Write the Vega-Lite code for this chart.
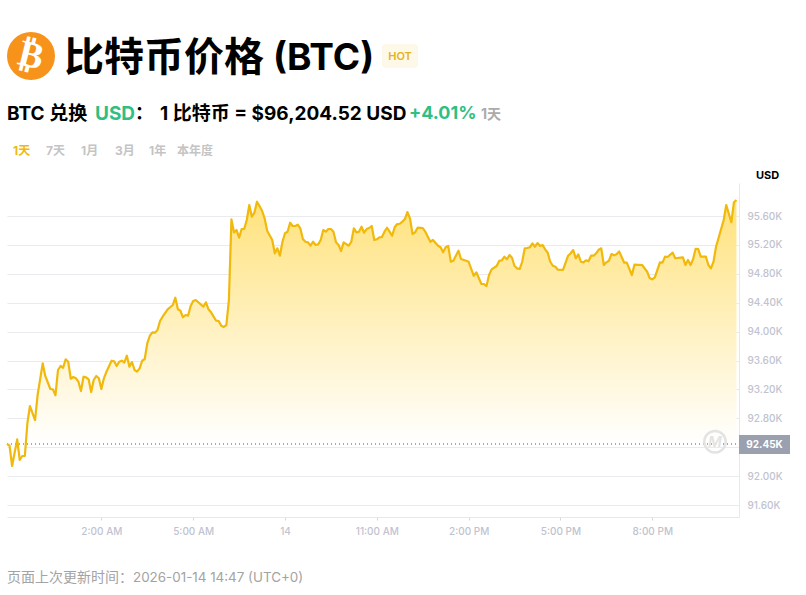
{"$schema":"https://vega.github.io/schema/vega-lite/v6.json","width":732,"height":334,"autosize":{"type":"none"},"padding":{"left":7,"top":183,"right":67,"bottom":78},"background":"#ffffff","config":{"view":{"stroke":null},"font":"Inter"},
"data":{"values":[
{"t":"2026-01-13T22:55","p":92.444},{"t":"2026-01-13T23:00","p":92.421},{"t":"2026-01-13T23:05","p":92.14},{"t":"2026-01-13T23:15","p":92.509},{"t":"2026-01-13T23:20","p":92.223},{"t":"2026-01-13T23:25","p":92.278},{"t":"2026-01-13T23:30","p":92.278},{"t":"2026-01-13T23:35","p":92.735},{"t":"2026-01-13T23:40","p":92.97},{"t":"2026-01-13T23:50","p":92.776},{"t":"2026-01-13T23:55","p":93.122},
{"t":"2026-01-14T00:05","p":93.561},{"t":"2026-01-14T00:10","p":93.386},{"t":"2026-01-14T00:20","p":93.206},{"t":"2026-01-14T00:25","p":93.201},{"t":"2026-01-14T00:30","p":93.118},{"t":"2026-01-14T00:35","p":93.469},{"t":"2026-01-14T00:40","p":93.524},{"t":"2026-01-14T00:45","p":93.5},{"t":"2026-01-14T00:50","p":93.617},{"t":"2026-01-14T00:55","p":93.583},
{"t":"2026-01-14T01:00","p":93.348},{"t":"2026-01-14T01:05","p":93.372},{"t":"2026-01-14T01:10","p":93.354},{"t":"2026-01-14T01:15","p":93.307},{"t":"2026-01-14T01:20","p":93.178},{"t":"2026-01-14T01:25","p":93.376},{"t":"2026-01-14T01:30","p":93.367},{"t":"2026-01-14T01:35","p":93.34},{"t":"2026-01-14T01:40","p":93.164},{"t":"2026-01-14T01:45","p":93.33},{"t":"2026-01-14T01:50","p":93.386},{"t":"2026-01-14T01:55","p":93.354},
{"t":"2026-01-14T02:00","p":93.206},{"t":"2026-01-14T02:05","p":93.354},{"t":"2026-01-14T02:10","p":93.445},{"t":"2026-01-14T02:20","p":93.597},{"t":"2026-01-14T02:25","p":93.589},{"t":"2026-01-14T02:30","p":93.524},{"t":"2026-01-14T02:35","p":93.583},{"t":"2026-01-14T02:40","p":93.597},{"t":"2026-01-14T02:45","p":93.57},{"t":"2026-01-14T02:50","p":93.666},{"t":"2026-01-14T02:55","p":93.514},
{"t":"2026-01-14T03:00","p":93.579},{"t":"2026-01-14T03:05","p":93.469},{"t":"2026-01-14T03:10","p":93.445},{"t":"2026-01-14T03:15","p":93.492},{"t":"2026-01-14T03:20","p":93.597},{"t":"2026-01-14T03:25","p":93.621},{"t":"2026-01-14T03:30","p":93.838},{"t":"2026-01-14T03:35","p":93.943},{"t":"2026-01-14T03:40","p":93.99},{"t":"2026-01-14T03:45","p":93.985},{"t":"2026-01-14T03:50","p":94.022},{"t":"2026-01-14T03:55","p":94.147},
{"t":"2026-01-14T04:00","p":94.206},{"t":"2026-01-14T04:10","p":94.309},{"t":"2026-01-14T04:20","p":94.368},{"t":"2026-01-14T04:25","p":94.469},{"t":"2026-01-14T04:30","p":94.309},{"t":"2026-01-14T04:35","p":94.289},{"t":"2026-01-14T04:40","p":94.198},{"t":"2026-01-14T04:45","p":94.23},{"t":"2026-01-14T04:50","p":94.22},{"t":"2026-01-14T04:55","p":94.354},
{"t":"2026-01-14T05:00","p":94.424},{"t":"2026-01-14T05:05","p":94.437},{"t":"2026-01-14T05:10","p":94.406},{"t":"2026-01-14T05:20","p":94.345},{"t":"2026-01-14T05:25","p":94.406},{"t":"2026-01-14T05:30","p":94.309},{"t":"2026-01-14T05:35","p":94.267},{"t":"2026-01-14T05:45","p":94.151},{"t":"2026-01-14T05:50","p":94.147},{"t":"2026-01-14T05:55","p":94.082},
{"t":"2026-01-14T06:00","p":94.064},{"t":"2026-01-14T06:05","p":94.091},{"t":"2026-01-14T06:10","p":94.437},{"t":"2026-01-14T06:15","p":95.554},{"t":"2026-01-14T06:20","p":95.374},{"t":"2026-01-14T06:25","p":95.406},{"t":"2026-01-14T06:30","p":95.3},{"t":"2026-01-14T06:35","p":95.42},{"t":"2026-01-14T06:40","p":95.42},{"t":"2026-01-14T06:45","p":95.545},{"t":"2026-01-14T06:50","p":95.752},{"t":"2026-01-14T06:55","p":95.59},
{"t":"2026-01-14T07:00","p":95.646},{"t":"2026-01-14T07:05","p":95.798},{"t":"2026-01-14T07:10","p":95.738},{"t":"2026-01-14T07:15","p":95.673},{"t":"2026-01-14T07:20","p":95.568},{"t":"2026-01-14T07:25","p":95.397},{"t":"2026-01-14T07:35","p":95.268},{"t":"2026-01-14T07:40","p":95.084},{"t":"2026-01-14T07:45","p":95.153},{"t":"2026-01-14T07:50","p":95.051},{"t":"2026-01-14T07:55","p":95.244},
{"t":"2026-01-14T08:00","p":95.361},{"t":"2026-01-14T08:05","p":95.383},{"t":"2026-01-14T08:10","p":95.507},{"t":"2026-01-14T08:15","p":95.462},{"t":"2026-01-14T08:20","p":95.462},{"t":"2026-01-14T08:25","p":95.48},{"t":"2026-01-14T08:30","p":95.43},{"t":"2026-01-14T08:35","p":95.282},{"t":"2026-01-14T08:40","p":95.244},{"t":"2026-01-14T08:45","p":95.236},{"t":"2026-01-14T08:50","p":95.189},{"t":"2026-01-14T08:55","p":95.244},
{"t":"2026-01-14T09:00","p":95.199},{"t":"2026-01-14T09:05","p":95.208},{"t":"2026-01-14T09:10","p":95.268},{"t":"2026-01-14T09:15","p":95.406},{"t":"2026-01-14T09:20","p":95.383},{"t":"2026-01-14T09:25","p":95.42},{"t":"2026-01-14T09:30","p":95.42},{"t":"2026-01-14T09:35","p":95.383},{"t":"2026-01-14T09:40","p":95.236},{"t":"2026-01-14T09:45","p":95.199},{"t":"2026-01-14T09:50","p":95.116},{"t":"2026-01-14T09:55","p":95.236},
{"t":"2026-01-14T10:00","p":95.212},{"t":"2026-01-14T10:05","p":95.189},{"t":"2026-01-14T10:10","p":95.244},{"t":"2026-01-14T10:15","p":95.43},{"t":"2026-01-14T10:20","p":95.374},{"t":"2026-01-14T10:25","p":95.383},{"t":"2026-01-14T10:30","p":95.452},{"t":"2026-01-14T10:35","p":95.369},{"t":"2026-01-14T10:40","p":95.42},{"t":"2026-01-14T10:45","p":95.434},{"t":"2026-01-14T10:50","p":95.462},{"t":"2026-01-14T10:55","p":95.268},
{"t":"2026-01-14T11:00","p":95.278},{"t":"2026-01-14T11:05","p":95.305},{"t":"2026-01-14T11:10","p":95.309},{"t":"2026-01-14T11:15","p":95.383},{"t":"2026-01-14T11:20","p":95.438},{"t":"2026-01-14T11:25","p":95.383},{"t":"2026-01-14T11:30","p":95.327},{"t":"2026-01-14T11:35","p":95.444},{"t":"2026-01-14T11:40","p":95.489},{"t":"2026-01-14T11:45","p":95.493},{"t":"2026-01-14T11:50","p":95.521},{"t":"2026-01-14T11:55","p":95.558},
{"t":"2026-01-14T12:00","p":95.655},{"t":"2026-01-14T12:05","p":95.568},{"t":"2026-01-14T12:10","p":95.351},{"t":"2026-01-14T12:15","p":95.374},{"t":"2026-01-14T12:20","p":95.438},{"t":"2026-01-14T12:30","p":95.434},{"t":"2026-01-14T12:35","p":95.383},{"t":"2026-01-14T12:45","p":95.244},{"t":"2026-01-14T12:50","p":95.268},
{"t":"2026-01-14T13:00","p":95.189},{"t":"2026-01-14T13:05","p":95.167},{"t":"2026-01-14T13:10","p":95.098},{"t":"2026-01-14T13:15","p":95.167},{"t":"2026-01-14T13:20","p":95.185},{"t":"2026-01-14T13:25","p":94.967},{"t":"2026-01-14T13:30","p":94.981},{"t":"2026-01-14T13:40","p":95.12},{"t":"2026-01-14T13:45","p":95.005},{"t":"2026-01-14T13:55","p":94.981},
{"t":"2026-01-14T14:00","p":94.967},{"t":"2026-01-14T14:10","p":94.77},{"t":"2026-01-14T14:15","p":94.821},{"t":"2026-01-14T14:25","p":94.659},{"t":"2026-01-14T14:30","p":94.659},{"t":"2026-01-14T14:35","p":94.631},{"t":"2026-01-14T14:40","p":94.783},{"t":"2026-01-14T14:45","p":94.862},{"t":"2026-01-14T14:55","p":94.908},
{"t":"2026-01-14T15:00","p":94.981},{"t":"2026-01-14T15:05","p":94.987},{"t":"2026-01-14T15:10","p":95.037},{"t":"2026-01-14T15:15","p":95.001},{"t":"2026-01-14T15:20","p":95.06},{"t":"2026-01-14T15:25","p":95.023},{"t":"2026-01-14T15:30","p":94.908},{"t":"2026-01-14T15:35","p":94.876},{"t":"2026-01-14T15:40","p":94.866},{"t":"2026-01-14T15:45","p":94.967},{"t":"2026-01-14T15:50","p":95.153},{"t":"2026-01-14T15:55","p":95.157},
{"t":"2026-01-14T16:00","p":95.167},{"t":"2026-01-14T16:05","p":95.222},{"t":"2026-01-14T16:10","p":95.175},{"t":"2026-01-14T16:15","p":95.226},{"t":"2026-01-14T16:20","p":95.185},{"t":"2026-01-14T16:25","p":95.199},{"t":"2026-01-14T16:30","p":95.139},{"t":"2026-01-14T16:35","p":95.092},{"t":"2026-01-14T16:40","p":94.967},{"t":"2026-01-14T16:45","p":94.912},{"t":"2026-01-14T16:50","p":94.898},{"t":"2026-01-14T16:55","p":94.857},
{"t":"2026-01-14T17:05","p":94.853},{"t":"2026-01-14T17:15","p":95.051},{"t":"2026-01-14T17:20","p":95.084},{"t":"2026-01-14T17:25","p":95.129},{"t":"2026-01-14T17:30","p":95.015},{"t":"2026-01-14T17:35","p":95.07},{"t":"2026-01-14T17:40","p":94.967},{"t":"2026-01-14T17:45","p":94.959},{"t":"2026-01-14T17:50","p":94.987},{"t":"2026-01-14T17:55","p":94.973},
{"t":"2026-01-14T18:00","p":95.051},{"t":"2026-01-14T18:05","p":95.051},{"t":"2026-01-14T18:10","p":95.084},{"t":"2026-01-14T18:15","p":95.134},{"t":"2026-01-14T18:20","p":95.153},{"t":"2026-01-14T18:25","p":94.922},{"t":"2026-01-14T18:30","p":94.959},{"t":"2026-01-14T18:35","p":94.981},{"t":"2026-01-14T18:40","p":95.074},{"t":"2026-01-14T18:45","p":95.056},{"t":"2026-01-14T18:50","p":95.07},{"t":"2026-01-14T18:55","p":95.111},
{"t":"2026-01-14T19:05","p":94.954},{"t":"2026-01-14T19:10","p":94.954},{"t":"2026-01-14T19:20","p":94.783},{"t":"2026-01-14T19:25","p":94.926},{"t":"2026-01-14T19:40","p":94.922},{"t":"2026-01-14T19:50","p":94.829},{"t":"2026-01-14T19:55","p":94.738},
{"t":"2026-01-14T20:00","p":94.724},{"t":"2026-01-14T20:05","p":94.752},{"t":"2026-01-14T20:15","p":94.959},{"t":"2026-01-14T20:20","p":94.954},{"t":"2026-01-14T20:25","p":95.037},{"t":"2026-01-14T20:30","p":95.033},{"t":"2026-01-14T20:40","p":95.092},{"t":"2026-01-14T20:45","p":95.015},
{"t":"2026-01-14T21:00","p":95.028},{"t":"2026-01-14T21:05","p":94.922},{"t":"2026-01-14T21:10","p":94.991},{"t":"2026-01-14T21:15","p":94.922},{"t":"2026-01-14T21:20","p":95.001},{"t":"2026-01-14T21:25","p":95.147},{"t":"2026-01-14T21:30","p":95.143},{"t":"2026-01-14T21:35","p":95.037},{"t":"2026-01-14T21:45","p":95.037},{"t":"2026-01-14T21:50","p":94.922},{"t":"2026-01-14T21:55","p":94.876},
{"t":"2026-01-14T22:00","p":94.967},{"t":"2026-01-14T22:05","p":95.175},{"t":"2026-01-14T22:20","p":95.545},{"t":"2026-01-14T22:25","p":95.752},{"t":"2026-01-14T22:35","p":95.513},{"t":"2026-01-14T22:40","p":95.79},{"t":"2026-01-14T22:45","p":95.822}
]},
"encoding":{
"x":{"field":"t","type":"temporal","title":null,"scale":{"domain":[{"year":2026,"month":1,"date":13,"hours":22,"minutes":55},{"year":2026,"month":1,"date":14,"hours":22,"minutes":50}]},
"axis":{"values":[{"year":2026,"month":1,"date":14,"hours":2},{"year":2026,"month":1,"date":14,"hours":5},{"year":2026,"month":1,"date":14,"hours":8},{"year":2026,"month":1,"date":14,"hours":11},{"year":2026,"month":1,"date":14,"hours":14},{"year":2026,"month":1,"date":14,"hours":17},{"year":2026,"month":1,"date":14,"hours":20}],"labelExpr":"hours(datum.value)==8?'14':timeFormat(datum.value,'%-I:%M %p')","grid":false,"domainColor":"#E8E8EC","tickColor":"#D5D7DE","tickSize":3,"labelColor":"#BFC3CF","labelFontSize":10,"labelFont":"Inter","labelPadding":6,"labelFontWeight":500}},
"y":{"field":"p","type":"quantitative","title":null,"scale":{"domain":[91.434,96.057],"zero":false,"nice":false},
"axis":{"orient":"right","values":[91.6,92.0,92.4,92.8,93.2,93.6,94.0,94.4,94.8,95.2,95.6],"labelExpr":"datum.value==92.4?'':format(datum.value,'.2f')+'K'","grid":true,"gridColor":"#EAEBEE","gridWidth":1,"ticks":false,"domain":true,"domainColor":"#E8E8EC","labelColor":"#BFC3CF","labelFontSize":10,"labelFont":"Inter","labelPadding":8,"labelFontWeight":500}}
},
"layer":[
{"mark":{"type":"area","line":false,"color":{"gradient":"linear","x1":0,"y1":0,"x2":0,"y2":1,"stops":[{"offset":0,"color":"#FFE27C"},{"offset":0.917,"color":"#FFFFFF"},{"offset":1,"color":"#FFFFFF"}]}},"encoding":{"y2":{"datum":92.45}}},
{"mark":{"type":"rule","color":"#A8A8A8","strokeDash":[1,3],"strokeWidth":1},"encoding":{"x":{"value":0},"x2":{"value":732},"y":{"datum":92.45}}},
{"mark":{"type":"line","color":"#F0B90B","strokeWidth":2.2,"strokeJoin":"round"}},
{"data":{"values":[{"v":1}]},"mark":{"type":"point","size":460,"filled":false,"stroke":"#E3E3E3","strokeWidth":2.5,"opacity":1},"encoding":{"x":{"value":708},"y":{"value":258.7}}},
{"data":{"values":[{"s":"M"}]},"mark":{"type":"text","font":"Inter","fontSize":15,"fontWeight":600,"fontStyle":"italic","color":"#E3E3E3","align":"center","baseline":"middle"},"encoding":{"text":{"field":"s"},"x":{"value":708},"y":{"value":258.7}}},
{"data":{"values":[{"v":1}]},"mark":{"type":"rect","color":"#9AA0AE"},"encoding":{"x":{"value":732},"x2":{"value":783},"y":{"value":252},"y2":{"value":271}}},
{"data":{"values":[{"s":"92.45K"}]},"mark":{"type":"text","font":"Inter","fontSize":10,"fontWeight":700,"color":"#FFFFFF","align":"center","baseline":"middle"},"encoding":{"text":{"field":"s"},"x":{"value":757.5},"y":{"value":261.5}}},
{"data":{"values":[{"s":"USD"}]},"mark":{"type":"text","font":"Inter","fontSize":11,"fontWeight":700,"color":"#000000","align":"left","baseline":"middle"},"encoding":{"text":{"field":"s"},"x":{"value":749},"y":{"value":-7.5}}},
{"data":{"values":[{"v":1}]},"mark":{"type":"point","filled":true,"size":2304,"color":"#F7931A","opacity":1},"encoding":{"x":{"value":24},"y":{"value":-127}}},
{"data":{"values":[{"s":"₿"}]},"mark":{"type":"text","font":"DejaVu Sans","fontSize":37,"fontWeight":700,"color":"#FFFFFF","angle":14,"align":"center","baseline":"middle"},"encoding":{"text":{"field":"s"},"x":{"value":24},"y":{"value":-127}}},
{"data":{"values":[{"s":"比特币价格"}]},"mark":{"type":"text","font":"Noto Sans CJK SC","fontSize":40,"fontWeight":700,"color":"#000000","align":"left","baseline":"middle"},"encoding":{"text":{"field":"s"},"x":{"value":57},"y":{"value":-124}}},
{"data":{"values":[{"s":"(BTC)"}]},"mark":{"type":"text","font":"Inter","fontSize":37,"fontWeight":700,"color":"#000000","align":"left","baseline":"middle"},"encoding":{"text":{"field":"s"},"x":{"value":266},"y":{"value":-124}}},
{"data":{"values":[{"v":1}]},"mark":{"type":"rect","color":"#FDF8E7","cornerRadius":3},"encoding":{"x":{"value":375},"x2":{"value":411},"y":{"value":-139},"y2":{"value":-115}}},
{"data":{"values":[{"s":"HOT"}]},"mark":{"type":"text","font":"Inter","fontSize":11,"fontWeight":600,"color":"#E5B320","align":"center","baseline":"middle"},"encoding":{"text":{"field":"s"},"x":{"value":393},"y":{"value":-126.5}}},
{"data":{"values":[{"s":"BTC 兑换"}]},"mark":{"type":"text","font":"Inter, Noto Sans CJK SC","fontSize":19,"fontWeight":700,"color":"#000000","align":"left","baseline":"middle"},"encoding":{"text":{"field":"s"},"x":{"value":0},"y":{"value":-69}}},
{"data":{"values":[{"s":"USD"}]},"mark":{"type":"text","font":"Inter","fontSize":19,"fontWeight":700,"color":"#2FBF84","align":"left","baseline":"middle"},"encoding":{"text":{"field":"s"},"x":{"value":88},"y":{"value":-69}}},
{"data":{"values":[{"s":"："}]},"mark":{"type":"text","font":"Noto Sans CJK SC","fontSize":18,"fontWeight":700,"color":"#000000","align":"left","baseline":"middle"},"encoding":{"text":{"field":"s"},"x":{"value":128},"y":{"value":-69}}},
{"data":{"values":[{"s":"1 比特币 = $96,204.52 USD"}]},"mark":{"type":"text","font":"Inter, Noto Sans CJK SC","fontSize":19,"fontWeight":700,"color":"#000000","align":"left","baseline":"middle"},"encoding":{"text":{"field":"s"},"x":{"value":153},"y":{"value":-69}}},
{"data":{"values":[{"s":"+4.01%"}]},"mark":{"type":"text","font":"Inter","fontSize":18,"fontWeight":700,"color":"#2FBF84","align":"left","baseline":"middle"},"encoding":{"text":{"field":"s"},"x":{"value":402},"y":{"value":-69}}},
{"data":{"values":[{"s":"1天"}]},"mark":{"type":"text","font":"Inter, Noto Sans CJK SC","fontSize":14,"fontWeight":700,"color":"#ABABAB","align":"left","baseline":"middle"},"encoding":{"text":{"field":"s"},"x":{"value":474},"y":{"value":-68}}},
{"data":{"values":[{"s":"1天"}]},"mark":{"type":"text","font":"Inter, Noto Sans CJK SC","fontSize":12,"fontWeight":700,"color":"#F0B90B","align":"left","baseline":"middle"},"encoding":{"text":{"field":"s"},"x":{"value":6},"y":{"value":-32}}},
{"data":{"values":[{"s":"7天"}]},"mark":{"type":"text","font":"Inter, Noto Sans CJK SC","fontSize":12,"fontWeight":700,"color":"#C4C4C4","align":"left","baseline":"middle"},"encoding":{"text":{"field":"s"},"x":{"value":39},"y":{"value":-32}}},
{"data":{"values":[{"s":"1月"}]},"mark":{"type":"text","font":"Inter, Noto Sans CJK SC","fontSize":12,"fontWeight":700,"color":"#C4C4C4","align":"left","baseline":"middle"},"encoding":{"text":{"field":"s"},"x":{"value":74},"y":{"value":-32}}},
{"data":{"values":[{"s":"3月"}]},"mark":{"type":"text","font":"Inter, Noto Sans CJK SC","fontSize":12,"fontWeight":700,"color":"#C4C4C4","align":"left","baseline":"middle"},"encoding":{"text":{"field":"s"},"x":{"value":108},"y":{"value":-32}}},
{"data":{"values":[{"s":"1年"}]},"mark":{"type":"text","font":"Inter, Noto Sans CJK SC","fontSize":12,"fontWeight":700,"color":"#C4C4C4","align":"left","baseline":"middle"},"encoding":{"text":{"field":"s"},"x":{"value":142},"y":{"value":-32}}},
{"data":{"values":[{"s":"本年度"}]},"mark":{"type":"text","font":"Inter, Noto Sans CJK SC","fontSize":12,"fontWeight":700,"color":"#C4C4C4","align":"left","baseline":"middle"},"encoding":{"text":{"field":"s"},"x":{"value":170},"y":{"value":-32}}},
{"data":{"values":[{"s":"页面上次更新时间："}]},"mark":{"type":"text","font":"Noto Sans CJK SC","fontSize":14,"color":"#A3A3A3","align":"left","baseline":"middle"},"encoding":{"text":{"field":"s"},"x":{"value":0},"y":{"value":395}}},
{"data":{"values":[{"s":"2026-01-14 14:47 (UTC+0)"}]},"mark":{"type":"text","font":"Inter","fontSize":13.4,"color":"#A3A3A3","align":"left","baseline":"middle"},"encoding":{"text":{"field":"s"},"x":{"value":126},"y":{"value":395}}}
]}
